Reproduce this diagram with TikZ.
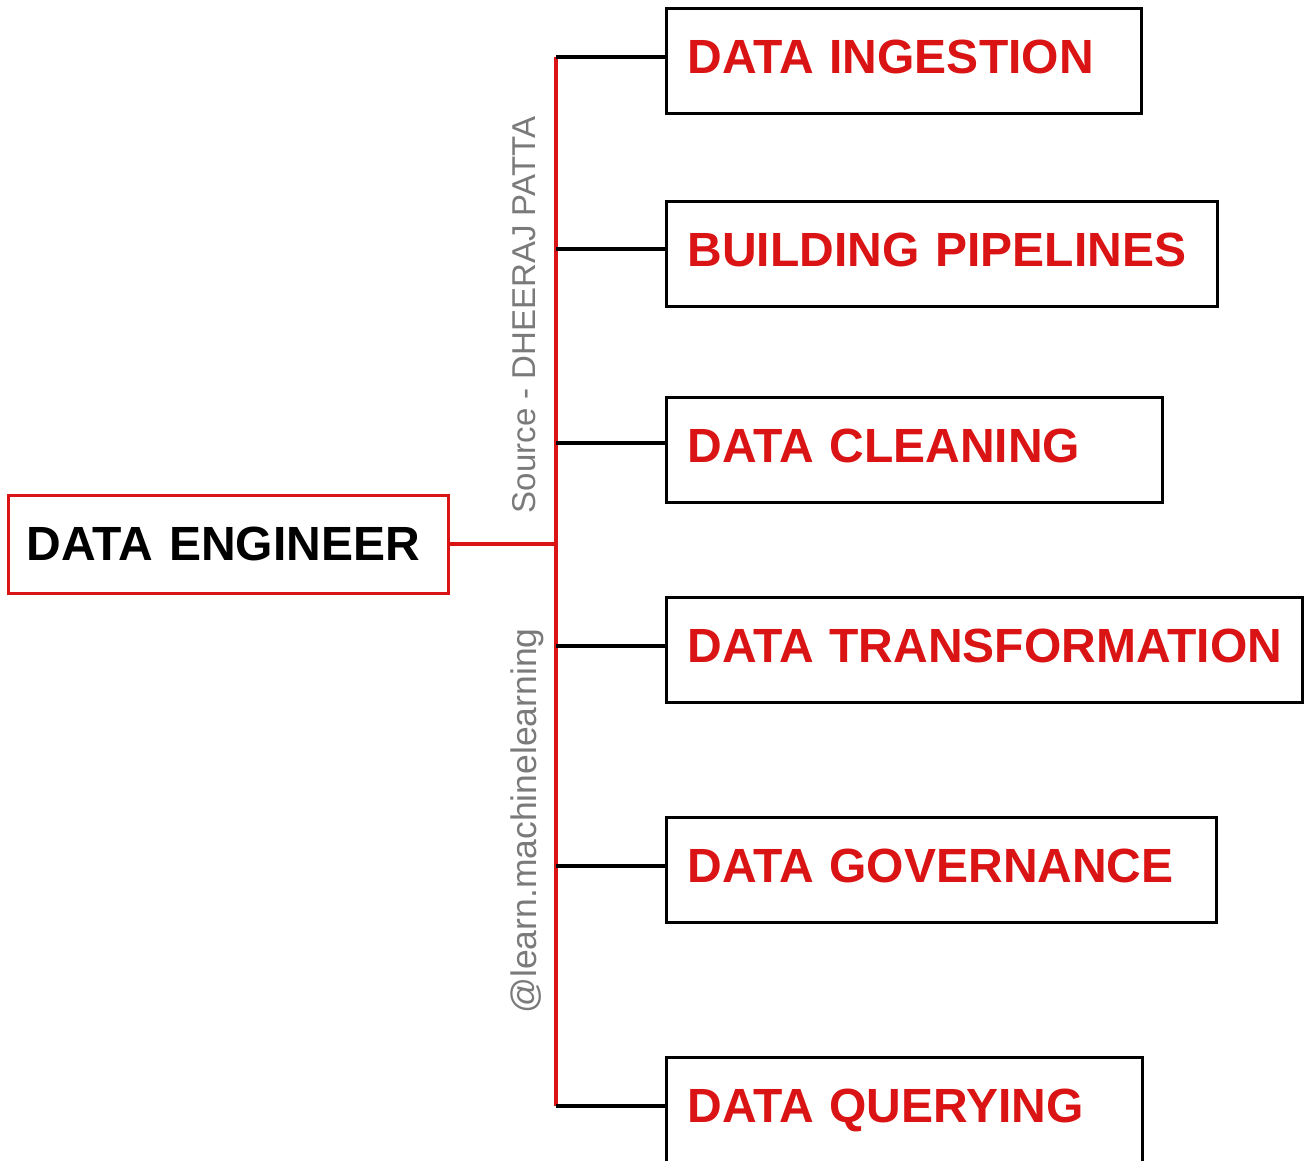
\documentclass[tikz,border=0pt]{standalone}
\usepackage{fontspec}
\setmainfont{Liberation Sans}
\usetikzlibrary{positioning,calc}
\definecolor{deRed}{RGB}{218,20,20}
\definecolor{deGray}{RGB}{122,122,122}

\begin{document}
\begin{tikzpicture}[x=1pt,y=-1pt,
  role/.style={draw=deRed, line width=3pt, minimum height=98pt, inner xsep=19pt, text width=402pt, align=left,
               font=\bfseries\fontsize{48}{56}\selectfont},
  task/.style={draw=black, line width=3pt, minimum height=105pt, inner xsep=21pt, align=left, anchor=west,
               text=deRed, text height=35pt, text depth=10pt, font=\bfseries\fontsize{48}{56}\selectfont},
  credit/.style={rotate=90, text=deGray, font=\fontsize{33}{40}\selectfont},
  trunk/.style={draw=deRed, line width=4.5pt},
  twig/.style={draw=black, line width=4pt}]
\useasboundingbox (0,0) rectangle (1304,1160);

% spine points
\coordinate (s1) at (556,57);
\coordinate (s2) at (556,249);
\coordinate (s3) at (556,443);
\coordinate (s4) at (556,646);
\coordinate (s5) at (556,866);
\coordinate (s6) at (556,1106);

\node[role] (eng) at (228,544) {DATA ENGINEER};

\node[task, text width=433pt] (ingest)    at (665,61)   {DATA INGESTION};
\node[task, text width=509pt] (pipes)     at (665,254)  {BUILDING PIPELINES};
\node[task, text width=454pt] (clean)     at (665,450)  {DATA CLEANING};
\node[task, text width=594pt] (transform) at (665,650)  {\mbox{DATA TRANSFORMATION}};
\node[task, text width=508pt] (govern)    at (665,870)  {DATA GOVERNANCE};
\node[task, text width=434pt] (query)     at (665,1110) {DATA QUERYING};

\node[credit] (src) at (524,315) {Source - DHEERAJ PATTA};
\node[credit, font=\fontsize{35.5}{42}\selectfont] (handle) at (527,821) {@learn.machinelearning};

\draw[trunk] (eng.east) -- (eng.east -| s1);
\draw[trunk] (s1) -- (s6);
\draw[twig] (s1) -- (s1 -| ingest.west);
\draw[twig] (s2) -- (s2 -| pipes.west);
\draw[twig] (s3) -- (s3 -| clean.west);
\draw[twig] (s4) -- (s4 -| transform.west);
\draw[twig] (s5) -- (s5 -| govern.west);
\draw[twig] (s6) -- (s6 -| query.west);
\end{tikzpicture}
\end{document}
